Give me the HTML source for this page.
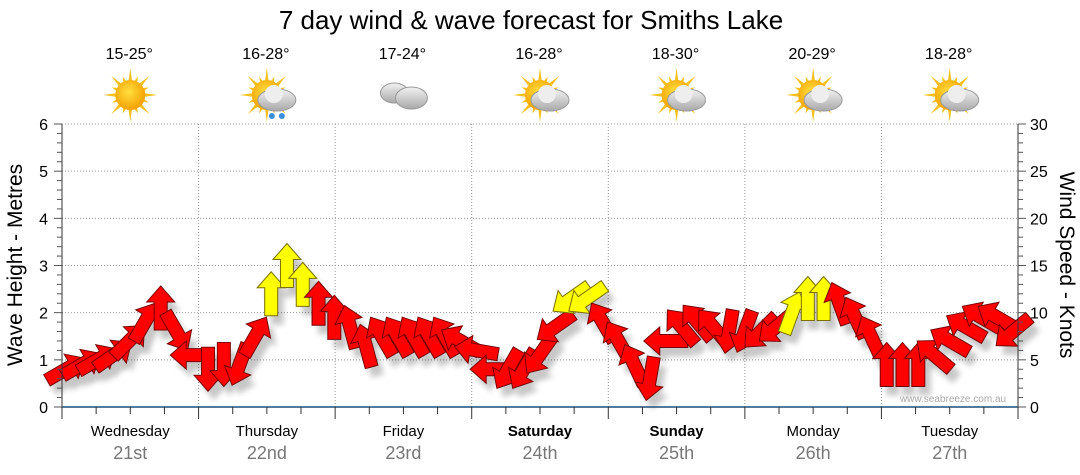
<!DOCTYPE html>
<html><head><meta charset="utf-8"><style>
body{margin:0;background:#fff;width:1080px;height:475px;overflow:hidden}
svg{display:block;font-family:"Liberation Sans",sans-serif}
</style></head><body>
<svg id="c" width="1080" height="475">
<defs>
<filter id="sh" x="-50%" y="-50%" width="200%" height="200%"><feGaussianBlur stdDeviation="3"/></filter>
<radialGradient id="sun" cx="45%" cy="40%" r="60%"><stop offset="0" stop-color="#ffe040"/><stop offset="1" stop-color="#f5a000"/></radialGradient>
<linearGradient id="cl" x1="0" y1="0" x2="0" y2="1"><stop offset="0" stop-color="#f2f2f2"/><stop offset="1" stop-color="#a8a8a8"/></linearGradient>
</defs>
<text x="531" y="29" font-size="26" text-anchor="middle">7 day wind &amp; wave forecast for Smiths Lake</text>
<g id="grid"></g><g id="shadows" opacity="0.22"></g><g id="arrows"></g><g id="axes"></g><g id="top"></g>
<text x="953" y="402" font-size="10" fill="#aaa" text-anchor="middle">www.seabreeze.com.au</text>
<text transform="translate(22,265) rotate(-90)" font-size="21" text-anchor="middle">Wave Height - Metres</text>
<text transform="translate(1060,265) rotate(90)" font-size="21" text-anchor="middle">Wind Speed - Knots</text>
</svg>
<script>
const days=["Wednesday","Thursday","Friday","Saturday","Sunday","Monday","Tuesday"];
const dates=["21st","22nd","23rd","24th","25th","26th","27th"];
const temps=["15-25°","16-28°","17-24°","16-28°","18-30°","20-29°","18-28°"];
const icons=["sun","sunrain","cloud","suncloud","suncloud","suncloud","suncloud"];
const leftTicks=[0,1,2,3,4,5,6];
const rightTicks=[0,5,10,15,20,25,30];
const waveHeight=[0.8,0.9,1.0,1.1,1.4,1.8,2.1,1.6,1.1,0.8,0.9,0.9,1.5,2.4,3.0,2.6,2.2,1.9,1.7,1.3,1.5,1.5,1.5,1.5,1.5,1.4,1.2,0.8,0.8,0.8,1.1,1.7,2.3,2.3,1.8,1.4,0.9,0.6,1.4,1.7,1.8,1.7,1.6,1.6,1.6,1.7,2.0,2.3,2.3,2.2,1.9,1.5,0.9,0.9,0.9,1.1,1.4,1.7,1.9,1.9,1.6];
const windDir=[60,60,60,55,45,30,0,150,270,180,180,200,30,0,0,0,0,0,345,345,330,330,330,330,330,300,280,270,210,210,215,235,235,235,330,330,335,190,270,320,320,320,190,200,225,230,20,0,0,340,335,335,0,0,0,310,300,300,300,300,230];
const windSpeed=[6,6,6,7,8,9,10,8,6,5,5,5,9,13,16,13,11,11,9,8,8,8,8,8,8,8,7,6,5,6,7,10,13,13,10,8,6,5,7,9,9,9,9,9,9,10,12,14,13,11,9,8,6,6,6,7,8,10,11,11,9];
const NS="http://www.w3.org/2000/svg";
const X0=62,X1=1018,Y0=407,Y6=124;
const xT=i=>X0+4+(X1-X0-9)*i/(waveHeight.length-1);
const yL=v=>Y0-(Y0-Y6)*v/6;
const yR=v=>Y0-(Y0-Y6)*v/30;
const dayX=d=>X0+(X1-X0)*d/7;
function mk(t,a,p){const e=document.createElementNS(NS,t);for(const k in a)e.setAttribute(k,a[k]);(p||document.getElementById('c')).appendChild(e);return e;}
const G=document.getElementById('grid'),A=document.getElementById('axes'),S=document.getElementById('shadows'),R=document.getElementById('arrows'),T=document.getElementById('top');
for(let v=1;v<=6;v++){const l=mk('line',{x1:X0,x2:X1,y1:yL(v),y2:yL(v),stroke:'#999','stroke-dasharray':'1,2'},G);

}
for(let d=1;d<7;d++){const l=mk('line',{x1:dayX(d),x2:dayX(d),y1:Y6,y2:Y0,stroke:'#999','stroke-dasharray':'1,2'},G);

}
mk('line',{x1:X0,x2:X0,y1:Y6,y2:Y0,stroke:'#333'},A);
mk('line',{x1:X1,x2:X1,y1:Y6,y2:Y0,stroke:'#333'},A);
mk('line',{x1:X0,x2:X1,y1:Y0,y2:Y0,stroke:'#1a4f7a','stroke-width':1.5},A);
for(let v=0;v<=30;v++){const y=Y0-(Y0-Y6)*v/30;const big=v%5==0;
mk('line',{x1:X0-(big?8:5),x2:X0,y1:y,y2:y,stroke:'#555'},A);
mk('line',{x1:X1,x2:X1+(big?8:5),y1:y,y2:y,stroke:'#555'},A);}
leftTicks.forEach(v=>{const t=mk('text',{x:X0-14,y:yL(v)+6,'font-size':16,'text-anchor':'end'},A);t.textContent=v;

});
rightTicks.forEach(v=>{const t=mk('text',{x:X1+12,y:yR(v)+6,'font-size':16},A);t.textContent=v;

});
for(let k=0;k<=28;k++){const x=X0+(X1-X0)*k/28;mk('line',{x1:x,x2:x,y1:Y0,y2:Y0+(k%4==0?12:7),stroke:'#333'},A);}
days.forEach((d,i)=>{const cx=(dayX(i)+dayX(i+1))/2;
const t=mk('text',{x:cx,y:436,'font-size':15,'text-anchor':'middle','font-weight':(i==3||i==4)?'bold':'normal'},A);t.textContent=d;


const t2=mk('text',{x:cx,y:459,'font-size':18,'text-anchor':'middle',fill:'#777'},A);t2.textContent=dates[i];


const t3=mk('text',{x:cx-1,y:59,'font-size':16,'text-anchor':'middle'},T);t3.textContent=temps[i];


const g=mk('g',{transform:`translate(${cx},95)`},T);


const ic=icons[i];
if(ic!='cloud'){for(let r=0;r<16;r++){const a=r*Math.PI/8,L=r%2?20:27;mk('polygon',{points:`${Math.cos(a-0.15)*13},${Math.sin(a-0.15)*13} ${Math.cos(a)*L},${Math.sin(a)*L} ${Math.cos(a+0.15)*13},${Math.sin(a+0.15)*13}`,fill:'#f3c020'},g);}
mk('circle',{cx:0,cy:0,r:15,fill:'url(#sun)'},g);}
if(ic=='cloud'){mk('ellipse',{cx:-9,cy:-2,rx:14,ry:10,fill:'url(#cl)',stroke:'#999'},g);mk('ellipse',{cx:8,cy:3,rx:16,ry:11,fill:'url(#cl)',stroke:'#999'},g);}
if(ic=='suncloud'||ic=='sunrain'){mk('ellipse',{cx:10,cy:5,rx:19,ry:11,fill:'url(#cl)',stroke:'#999'},g);mk('circle',{cx:7,cy:-1,r:9,fill:'#eee'},g);}
if(ic=='sunrain'){mk('circle',{cx:5,cy:21,r:3,fill:'#3a8ee0'},g);mk('circle',{cx:15,cy:21,r:3,fill:'#3a8ee0'},g);}
});
const shape="0,-22 14,-6 6.5,-6 6.5,22 -6.5,22 -6.5,-6 -14,-6";
waveHeight.forEach((v,i)=>{const x=xT(i),y=yL(v);
const s=mk('polygon',{points:shape,transform:`translate(${x+6},${y+9}) rotate(${windDir[i]})`,fill:'#000',filter:'url(#sh)'},S);


const a=mk('polygon',{points:shape,transform:`translate(${x},${y}) rotate(${windDir[i]})`,fill:windSpeed[i]>=12?'#ffff00':'#ff0000',stroke:windSpeed[i]>=12?'#7a7000':'#700','stroke-width':1},R);

});
</script>
</body></html>
